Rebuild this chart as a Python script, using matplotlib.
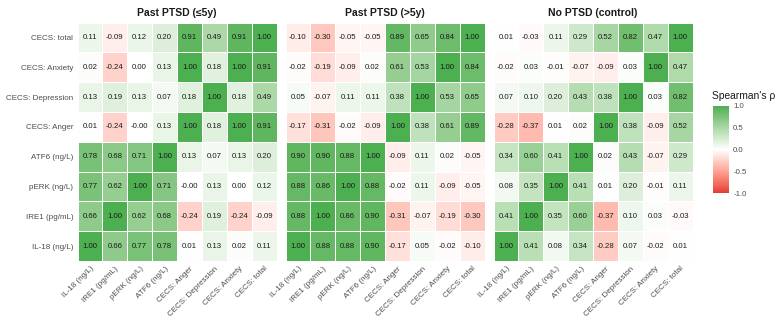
import numpy as np
import matplotlib
matplotlib.use("Agg")
import matplotlib.pyplot as plt
from matplotlib.colors import ListedColormap, Normalize

plt.rcParams['font.family'] = ['Liberation Sans', 'DejaVu Sans']

row_labels = ["CECS: total", "CECS: Anxiety", "CECS: Depression", "CECS: Anger",
              "ATF6 (ng/L)", "pERK (ng/L)", "IRE1 (pg/mL)", "IL-18 (ng/L)"]
col_labels = ["IL-18 (ng/L)", "IRE1 (pg/mL)", "pERK (ng/L)", "ATF6 (ng/L)",
              "CECS: Anger", "CECS: Depression", "CECS: Anxiety", "CECS: total"]
panel_titles = ["Past PTSD (≤5y)", "Past PTSD (>5y)", "No PTSD (control)"]

past_le5 = [
    [0.11, -0.09, 0.12, 0.20, 0.91, 0.49, 0.91, 1.00],
    [0.02, -0.24, 0.00, 0.13, 1.00, 0.18, 1.00, 0.91],
    [0.13, 0.19, 0.13, 0.07, 0.18, 1.00, 0.18, 0.49],
    [0.01, -0.24, -0.0, 0.13, 1.00, 0.18, 1.00, 0.91],
    [0.78, 0.68, 0.71, 1.00, 0.13, 0.07, 0.13, 0.20],
    [0.77, 0.62, 1.00, 0.71, -0.0, 0.13, 0.00, 0.12],
    [0.66, 1.00, 0.62, 0.68, -0.24, 0.19, -0.24, -0.09],
    [1.00, 0.66, 0.77, 0.78, 0.01, 0.13, 0.02, 0.11],
]
past_gt5 = [
    [-0.10, -0.30, -0.05, -0.05, 0.89, 0.65, 0.84, 1.00],
    [-0.02, -0.19, -0.09, 0.02, 0.61, 0.53, 1.00, 0.84],
    [0.05, -0.07, 0.11, 0.11, 0.38, 1.00, 0.53, 0.65],
    [-0.17, -0.31, -0.02, -0.09, 1.00, 0.38, 0.61, 0.89],
    [0.90, 0.90, 0.88, 1.00, -0.09, 0.11, 0.02, -0.05],
    [0.88, 0.86, 1.00, 0.88, -0.02, 0.11, -0.09, -0.05],
    [0.88, 1.00, 0.86, 0.90, -0.31, -0.07, -0.19, -0.30],
    [1.00, 0.88, 0.88, 0.90, -0.17, 0.05, -0.02, -0.10],
]
no_ptsd = [
    [0.01, -0.03, 0.11, 0.29, 0.52, 0.82, 0.47, 1.00],
    [-0.02, 0.03, -0.01, -0.07, -0.09, 0.03, 1.00, 0.47],
    [0.07, 0.10, 0.20, 0.43, 0.38, 1.00, 0.03, 0.82],
    [-0.28, -0.37, 0.01, 0.02, 1.00, 0.38, -0.09, 0.52],
    [0.34, 0.60, 0.41, 1.00, 0.02, 0.43, -0.07, 0.29],
    [0.08, 0.35, 1.00, 0.41, 0.01, 0.20, -0.01, 0.11],
    [0.41, 1.00, 0.35, 0.60, -0.37, 0.10, 0.03, -0.03],
    [1.00, 0.41, 0.08, 0.34, -0.28, 0.07, -0.02, 0.01],
]
panels = [past_le5, past_gt5, no_ptsd]

# --- Lab interpolation like ggplot's scale_fill_gradient2 ---
def srgb_to_lab(rgb):
    rgb = np.asarray(rgb, float)
    lin = np.where(rgb <= 0.04045, rgb / 12.92, ((rgb + 0.055) / 1.055) ** 2.4)
    M = np.array([[0.4124, 0.3576, 0.1805], [0.2126, 0.7152, 0.0722], [0.0193, 0.1192, 0.9505]])
    xyz = M @ lin
    wp = np.array([0.95047, 1.0, 1.08883])
    t = xyz / wp
    f = np.where(t > (6/29)**3, np.cbrt(t), t / (3*(6/29)**2) + 4/29)
    return np.array([116*f[1]-16, 500*(f[0]-f[1]), 200*(f[1]-f[2])])

def lab_to_srgb(lab):
    L, a, b = lab
    fy = (L + 16) / 116
    fx = fy + a / 500
    fz = fy - b / 200
    def finv(t):
        return np.where(t > 6/29, t**3, 3*(6/29)**2*(t - 4/29))
    wp = np.array([0.95047, 1.0, 1.08883])
    xyz = wp * np.array([finv(fx), finv(fy), finv(fz)])
    Minv = np.linalg.inv(np.array([[0.4124, 0.3576, 0.1805], [0.2126, 0.7152, 0.0722], [0.0193, 0.1192, 0.9505]]))
    lin = Minv @ xyz
    lin = np.clip(lin, 0, 1)
    rgb = np.where(lin <= 0.0031308, 12.92*lin, 1.055*lin**(1/2.4) - 0.055)
    return np.clip(rgb, 0, 1)

def hex2rgb(h):
    h = h.lstrip('#')
    return np.array([int(h[i:i+2], 16)/255 for i in (0, 2, 4)])

low, mid, high = hex2rgb("#E53935"), hex2rgb("#FFFFFF"), hex2rgb("#4CAF50")
Llow, Lmid, Lhigh = srgb_to_lab(low), srgb_to_lab(mid), srgb_to_lab(high)
cols = []
for t in np.linspace(0, 1, 256):
    if t < 0.5:
        s = t / 0.5
        lab = Llow*(1-s) + Lmid*s
    else:
        s = (t-0.5)/0.5
        lab = Lmid*(1-s) + Lhigh*s
    cols.append(lab_to_srgb(lab))
cmap = ListedColormap(cols)
norm = Normalize(-1, 1)

W, H = 778, 325
fig = plt.figure(figsize=(W/100, H/100), dpi=100)

lefts = [77.5, 285.5, 493.5]
pw = 199
top, bottom = 22.7, 261
text_gray = "#4D4D4D"

for k, (data, title) in enumerate(zip(panels, panel_titles)):
    ax = fig.add_axes([lefts[k]/W, 1-bottom/H, pw/W, (bottom-top)/H])
    arr = np.array(data, float)
    ax.pcolormesh(np.arange(9), np.arange(9), arr, cmap=cmap, norm=norm,
                  edgecolors="white", linewidth=0.4)
    ax.set_xlim(0, 8)
    ax.set_ylim(8, 0)
    for i in range(8):
        for j in range(8):
            ax.text(j+0.5, i+0.5, f"{arr[i, j]:.2f}", ha="center", va="center",
                    fontsize=5.6, color="#1A1A1A")
    ax.set_xticks(np.arange(8)+0.5)
    ax.set_xticklabels(col_labels, rotation=45, ha="right", rotation_mode="anchor",
                       fontsize=5.8, color=text_gray)
    ax.set_yticks(np.arange(8)+0.5)
    if k == 0:
        ax.set_yticklabels(row_labels, fontsize=5.8, color=text_gray)
    else:
        ax.set_yticklabels([])
    ax.tick_params(length=0, pad=3)
    for sp in ax.spines.values():
        sp.set_visible(False)
    ax.set_title(title, fontsize=7.5, fontweight="bold", pad=5, color="#1A1A1A")

cax = fig.add_axes([713/W, 1-193/H, 16/W, 87/H])
sm = plt.cm.ScalarMappable(cmap=cmap, norm=norm)
cb = fig.colorbar(sm, cax=cax, ticks=[-1, -0.5, 0, 0.5, 1])
cb.outline.set_visible(False)
cb.ax.set_yticklabels(["-1.0", "-0.5", "0.0", "0.5", "1.0"], fontsize=5.6, color=text_gray)
cb.ax.tick_params(length=0, pad=3)
fig.text(712/W, 1-96/H, "Spearman's ρ", fontsize=7.4, color="#1A1A1A", va="center", ha="left")

fig.savefig("out.png", dpi=100, facecolor="white")
